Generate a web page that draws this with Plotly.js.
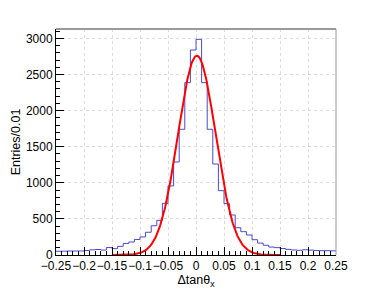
<!DOCTYPE html>
<html>
<head>
<meta charset="utf-8">
<script src="https://cdn.plot.ly/plotly-3.0.1.min.js"></script>
<style>html,body{margin:0;padding:0;background:#fff;}#chart{width:374px;height:290px;}</style>
</head>
<body>
<div id="chart"></div>
<script>
// Histogram: 50 bins of width 0.01 from -0.25 to 0.25
const binLow = -0.25;
const binWidth = 0.01;
const counts = [
  52, 53, 55, 55, 56, 62, 72, 76, 68, 103,
  88, 120, 160, 180, 215, 250, 315, 405, 480, 716,
  956, 1288, 1741, 2387, 2839, 2987, 2387, 1741, 1260, 891,
  711, 554, 378, 323, 277, 212, 165, 135, 110, 102,
  90, 78, 70, 65, 72, 68, 62, 60, 60, 58
];
// Gaussian fit parameters (constant, mean, sigma) and fit range
const fitConst = 2760;
const fitMean = 0.0015;
const fitSigma = 0.0335;
const fitRange = [-0.15, 0.15];
const xTickVals = [-0.25,-0.2,-0.15,-0.1,-0.05,0,0.05,0.1,0.15,0.2,0.25];
const yTickVals = [0,500,1000,1500,2000,2500,3000];

// step outline
const hx = [], hy = [];
counts.forEach((c, i) => { hx.push(binLow + i * binWidth); hy.push(c); });
hx.push(binLow + counts.length * binWidth); hy.push(counts[counts.length - 1]);

// fit curve
const fx = [], fy = [];
const nPts = 300;
for (let i = 0; i <= nPts; i++) {
  const x = fitRange[0] + (fitRange[1] - fitRange[0]) * i / nPts;
  fx.push(x);
  fy.push(fitConst * Math.exp(-0.5 * Math.pow((x - fitMean) / fitSigma, 2)));
}

const font = {family: 'Liberation Sans, Arial, sans-serif', size: 12, color: '#000'};
const titleFont = {family: 'Liberation Sans, Arial, sans-serif', size: 12.5, color: '#000'};
const data = [
  {x: hx, y: hy, type: 'scatter', mode: 'lines', line: {shape: 'hv', color: '#4a4ac8', width: 1}, hoverinfo: 'skip'},
  {x: fx, y: fy, type: 'scatter', mode: 'lines', line: {color: '#ff0000', width: 2}, hoverinfo: 'skip'}
];
const layout = {
  width: 374, height: 290,
  margin: {l: 56, r: 38, t: 29, b: 35},
  paper_bgcolor: '#fff', plot_bgcolor: '#fff',
  showlegend: false,
  font: font,
  xaxis: {
    range: [-0.25, 0.25], tickvals: xTickVals, tickangle: 0,
    ticks: 'inside', ticklen: 8, tickcolor: '#000', tickwidth: 1,
    minor: {dtick: 0.01, ticks: 'inside', ticklen: 4, tickcolor: '#000', showgrid: false},
    showline: true, linecolor: '#000', linewidth: 1, mirror: false,
    showgrid: true, gridcolor: '#dcdcdc', griddash: 'dot', gridwidth: 1,
    zeroline: false, tickfont: font,
    title: {text: 'Δtanθ<sub>x</sub>', font: titleFont, standoff: 0}
  },
  yaxis: {
    range: [0, 3130], tickvals: yTickVals,
    ticks: 'inside', ticklen: 8, tickcolor: '#000', tickwidth: 1,
    minor: {dtick: 100, ticks: 'inside', ticklen: 4, tickcolor: '#000', showgrid: false},
    showline: true, linecolor: '#000', linewidth: 1, mirror: false,
    showgrid: true, gridcolor: '#dcdcdc', griddash: 'dot', gridwidth: 1,
    zeroline: false, tickfont: font,
    title: {text: 'Entries/0.01', font: titleFont, standoff: 2}
  },
  shapes: [
    {type: 'line', xref: 'paper', yref: 'paper', x0: 0, x1: 1, y0: 1, y1: 1, line: {color: '#999', width: 2}},
    {type: 'line', xref: 'paper', yref: 'paper', x0: 1, x1: 1, y0: 0, y1: 1, line: {color: '#999', width: 1}}
  ]
};
Plotly.newPlot('chart', data, layout, {staticPlot: true, displayModeBar: false});
</script>
</body>
</html>
